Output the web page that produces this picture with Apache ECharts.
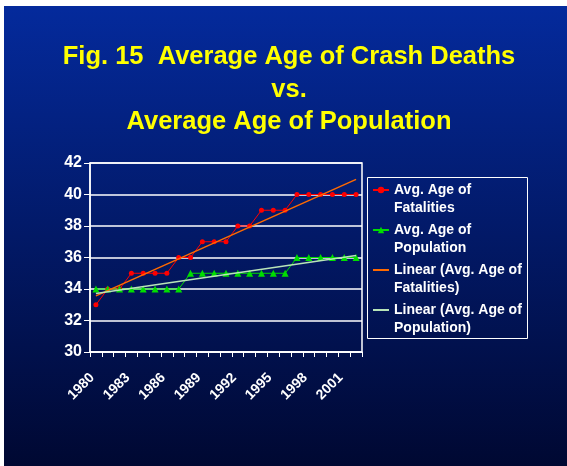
<!DOCTYPE html>
<html>
<head>
<meta charset="utf-8">
<script src="https://cdn.jsdelivr.net/npm/echarts@6/dist/echarts.min.js"></script>
<style>html,body{margin:0;padding:0;background:#fff}#c{width:567px;height:466px}</style>
</head>
<body>
<div id="c"></div>
<script>
var years = ['1980','1981','1982','1983','1984','1985','1986','1987','1988','1989','1990','1991','1992','1993','1994','1995','1996','1997','1998','1999','2000','2001','2002'];
var fatalities = [33,34,34,35,35,35,35,36,36,37,37,37,38,38,39,39,39,40,40,40,40,40,40];
var population = [34,34,34,34,34,34,34,34,35,35,35,35,35,35,35,35,35,36,36,36,36,36,36];
var trendFatalEnds = [33.56, 40.96];
var trendPopEnds = [33.71, 36.12];
var yTicks = {min: 30, max: 42, interval: 2};
var titleLines = ['Fig. 15  Average Age of Crash Deaths', 'vs.', 'Average Age of Population'];
var legendNames = ['Avg. Age of\nFatalities', 'Avg. Age of\nPopulation', 'Linear (Avg. Age of\nFatalities)', 'Linear (Avg. Age of\nPopulation)'];

var chart = echarts.init(document.getElementById('c'), null, {renderer: 'canvas'});
var FONT = '"Liberation Sans", Arial, sans-serif';
var option = {
  backgroundColor: '#ffffff',
  animation: false,
  graphic: [
    {type: 'rect', shape: {x: 4, y: 6, width: 563, height: 460}, z: -10, silent: true,
     style: {fill: new echarts.graphic.LinearGradient(0, 0, 0, 1, [
       {offset: 0, color: '#042a9c'}, {offset: 1, color: '#000832'}])}},
    {type: 'rect', shape: {x: 367.5, y: 177.5, width: 160, height: 161}, z: 5, silent: true,
     style: {fill: 'none', stroke: '#ffffff', lineWidth: 1}}
  ],
  title: {
    text: titleLines.join('\n'),
    left: 284, top: 36, textAlign: 'center',
    textStyle: {color: '#ffff00', fontFamily: FONT, fontWeight: 'bold', fontSize: 25.5, lineHeight: 32.5}
  },
  legend: {
    orient: 'vertical', left: 372, top: 163, padding: 0,
    itemWidth: 16, itemHeight: 8, itemGap: -14,
    data: [
      {name: legendNames[0]},
      {name: legendNames[1]},
      {name: legendNames[2], itemStyle: {opacity: 0}},
      {name: legendNames[3], itemStyle: {opacity: 0}}
    ],
    formatter: function (n) { return '\n' + n; },
    textStyle: {color: '#ffffff', fontFamily: FONT, fontWeight: 'bold', fontSize: 14, lineHeight: 18}
  },
  grid: {left: 90, right: 205, top: 163, bottom: 114, show: true, borderColor: '#ffffff', borderWidth: 1.5},
  xAxis: {
    type: 'category', data: years, boundaryGap: true,
    axisLine: {lineStyle: {color: '#ffffff', width: 1.5}},
    axisTick: {show: true, interval: 0, length: 5, lineStyle: {color: '#ffffff'}},
    axisLabel: {interval: 2, rotate: 45, margin: 20, padding: [0, 5, 0, 0], color: '#ffffff', fontFamily: FONT, fontWeight: 'bold', fontSize: 14}
  },
  yAxis: {
    type: 'value', min: yTicks.min, max: yTicks.max, interval: yTicks.interval,
    axisLine: {show: true, lineStyle: {color: '#ffffff', width: 1.5}},
    axisTick: {show: true, length: 6, lineStyle: {color: '#ffffff'}},
    axisLabel: {margin: 8, color: '#ffffff', fontFamily: FONT, fontWeight: 'bold', fontSize: 16},
    splitLine: {lineStyle: {color: '#ffffff', width: 1.5}}
  },
  series: [
    {name: legendNames[0], type: 'line', data: fatalities, symbol: 'circle', symbolSize: 5,
     itemStyle: {color: '#ff0000'}, lineStyle: {color: '#ff0000', width: 1}, z: 3},
    {name: legendNames[1], type: 'line', data: population, symbol: 'triangle', symbolSize: 7,
     itemStyle: {color: '#00dd00'}, lineStyle: {color: '#00dd00', width: 1}, z: 3},
    {name: legendNames[2], type: 'line', symbol: 'none',
     data: [[years[0], trendFatalEnds[0]], [years[years.length - 1], trendFatalEnds[1]]],
     itemStyle: {color: '#ff6a00'}, lineStyle: {color: '#ff6a00', width: 1.5}, z: 4},
    {name: legendNames[3], type: 'line', symbol: 'none',
     data: [[years[0], trendPopEnds[0]], [years[years.length - 1], trendPopEnds[1]]],
     itemStyle: {color: '#b8e4b8'}, lineStyle: {color: '#b8e4b8', width: 1.5}, z: 4}
  ]
};
chart.setOption(option);
</script>
</body>
</html>
